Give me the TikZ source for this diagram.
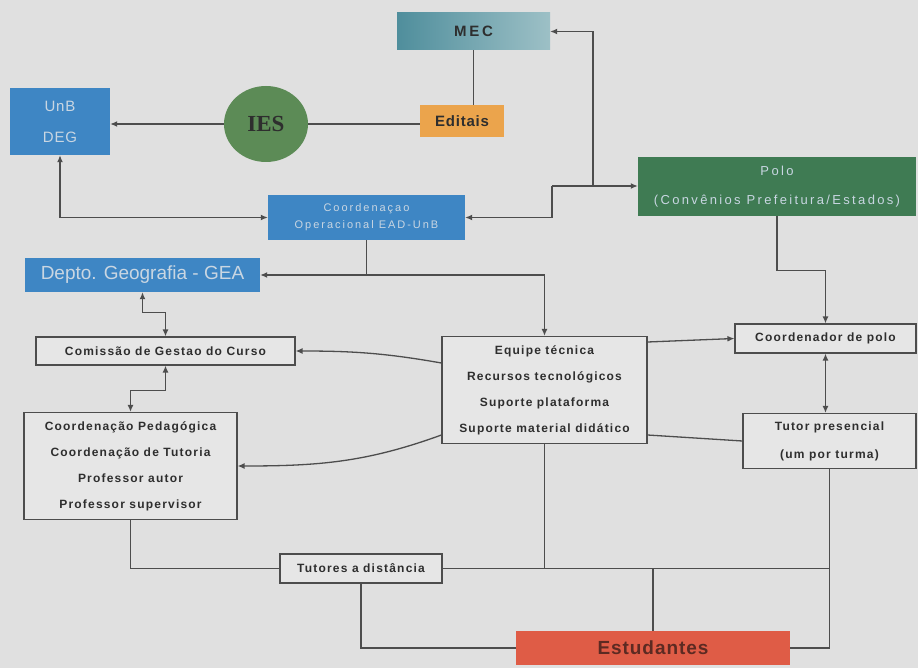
\documentclass[tikz,border=0pt]{standalone}
\usepackage{fontspec}
\setmainfont{Liberation Sans}
\newfontfamily\esp[LetterSpace=10]{Liberation Sans}
\newfontfamily\espl[LetterSpace=18]{Liberation Sans}
\newfontfamily\espm[LetterSpace=5]{Liberation Sans}
\newfontfamily\timesb{Liberation Serif}
\usepackage{tikz}
\usetikzlibrary{arrows.meta,shapes.geometric}
\definecolor{fundo}{HTML}{E0E0E0}
\definecolor{claro}{HTML}{E6E6E6}
\definecolor{linha}{HTML}{4D4D4D}
\definecolor{texto}{HTML}{2E2E2E}
\definecolor{azul}{HTML}{3E86C4}
\definecolor{azultexto}{HTML}{C9D6E2}
\definecolor{verdepolo}{HTML}{3F7B53}
\definecolor{verdeies}{HTML}{5C8B56}
\definecolor{laranja}{HTML}{EBA44C}
\definecolor{mecA}{HTML}{4F8E9C}
\definecolor{mecB}{HTML}{9DC0C6}
\definecolor{vermelho}{HTML}{DF5C46}
\definecolor{marrom}{HTML}{5C2A22}

\begin{document}
\begin{tikzpicture}[x=1pt,y=-1pt,
	con/.style={draw=linha,line width=1.3pt},
	arr/.style={con,-{Latex[length=7pt,width=6pt]}},
	darr/.style={con,{Latex[length=7pt,width=6pt]}-{Latex[length=7pt,width=6pt]}},
	caixa/.style={draw=linha,line width=1.2pt,fill=claro,text=texto,align=center,inner sep=0pt,font=\esp\bfseries\fontsize{12}{26}\selectfont},
	bloco/.style={inner sep=0pt,align=center,text=azultexto,font=\espl\fontsize{11}{17}\selectfont}]
	\fill[fundo] (0,0) rectangle (918,668);
	
	\node[bloco,left color=mecA,right color=mecB,text=texto,minimum width=153pt,minimum height=37pt,font=\espl\bfseries\fontsize{15}{17}\selectfont] (mec) at (473.5,31.5) {MEC};
	\node[bloco,fill=laranja,text=texto,minimum width=84pt,minimum height=32pt,font=\espm\bfseries\fontsize{15}{17}\selectfont] (editais) at (462,121) {Editais};
	\node[ellipse,fill=verdeies,minimum width=84pt,minimum height=76pt,inner sep=0pt,text=texto,font=\timesb\bfseries\fontsize{23}{26}\selectfont] (ies) at (266,124) {IES};
	\node[bloco,fill=azul,minimum width=100pt,minimum height=67pt,font=\espm\fontsize{15}{31}\selectfont] (unb) at (60,121.5) {UnB\\DEG};
	\node[bloco,fill=azul,minimum width=197pt,minimum height=45pt] (coordop) at (366.5,217.5) {Coordenaçao\\Operacional EAD-UnB};
	\node[bloco,fill=verdepolo,minimum width=278pt,minimum height=59pt,font=\espl\fontsize{13}{29}\selectfont] (polo) at (777,186.5) {Polo\\(Convênios Prefeitura/Estados)};
	\node[bloco,fill=azul,minimum width=235pt,minimum height=34pt,font=\fontsize{19}{22}\selectfont] (gea) at (142.5,275) {Depto. Geografia - GEA};
	
	\node[caixa,minimum width=259pt,minimum height=28pt] (comissao) at (165.5,351) {Comissão de Gestao do Curso};
	\node[caixa,minimum width=213pt,minimum height=107pt] (coordped) at (130.5,466) {Coordenação Pedagógica\\Coordenação de Tutoria\\Professor autor\\Professor supervisor};
	\node[caixa,minimum width=205pt,minimum height=107pt] (equipe) at (544.5,390) {Equipe técnica\\Recursos tecnológicos\\Suporte plataforma\\Suporte material didático};
	\node[caixa,minimum width=181pt,minimum height=29pt] (coordpolo) at (825.5,338.5) {Coordenador de polo};
	\node[caixa,minimum width=173pt,minimum height=55pt,font=\esp\bfseries\fontsize{12}{28}\selectfont] (tutor) at (829.5,441) {Tutor presencial\\(um por turma)};
	\node[caixa,minimum width=162pt,minimum height=29pt] (tutores) at (361,568.5) {Tutores a distância};
	\node[bloco,fill=vermelho,text=marrom,minimum width=274pt,minimum height=34pt,font=\espm\bfseries\fontsize{19}{22}\selectfont] (estud) at (653,648) {Estudantes};
	
	\draw[con] (mec.south) -- (mec.south |- editais.north);
	\draw[con] (ies.east) -- (ies.east -| editais.west);
	\draw[arr] (ies.west) -- (ies.west -| unb.east);
	\draw[darr] (unb.south) |- (coordop.west);
	
	\coordinate (j1) at (593,186);
	\coordinate (j2) at (552,186);
	\draw[arr] (j2) -- (j2 -| polo.west);
	\draw[arr] (j1) |- (mec.east);
	\draw[arr] (j2) |- (coordop.east);
	
	\coordinate (c1) at (coordop.south |- gea.east);
	\draw[arr] (coordop.south) |- (gea.east);
	\draw[arr] (c1) -| (equipe.north);
	\draw[darr] (gea.south) -- ++(0,20) -| (comissao.north);
	\draw[darr] (comissao.south) -- ++(0,25) -| (coordped.north);
	
	\draw[arr] ([yshift=27pt]equipe.west) to[out=170,in=0] (comissao.east);
	\draw[arr] ([yshift=-45pt]equipe.west) to[out=200,in=0] (coordped.east);
	\draw[arr] ([yshift=48pt]equipe.east) -- (coordpolo.west);
	\draw[con] ([yshift=-45pt]equipe.east) -- (tutor.west);
	\draw[arr] (polo.south) -- ++(0,54) -| (coordpolo.north);
	\draw[darr] (coordpolo.south) -- (coordpolo.south |- tutor.north);
	
	\draw[con] (coordped.south) |- (tutores.west);
	\draw[con] (tutores.east) -| (tutor.south);
	\draw[con] (equipe.south) -- (equipe.south |- tutores.east);
	\draw[con] (estud.north |- tutores.east) -- (estud.north);
	\draw[con] (tutores.south) |- (estud.west);
	\draw[con] (tutor.south |- tutores.east) |- (estud.east);
	
\end{tikzpicture}
\end{document}
